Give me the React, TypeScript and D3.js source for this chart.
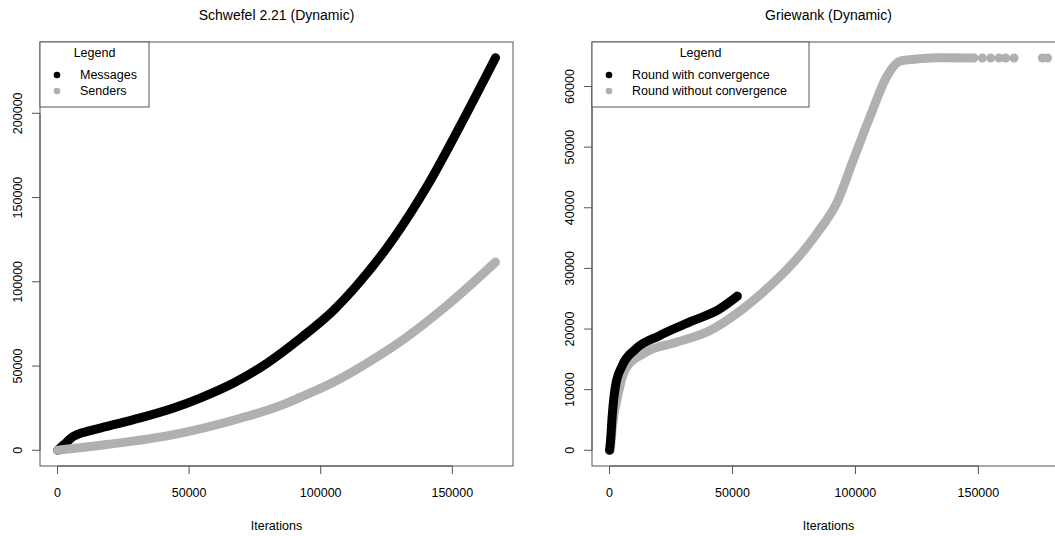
import React from "react";
import * as d3 from "d3";

// values, [iteration, count]
const messages: [number, number][] = [
  [0, 0], [2500, 3500], [6100, 8300], [12000, 11500], [18800, 14200],
  [31400, 19200], [44100, 25100], [54200, 31000], [66900, 39900],
  [79600, 51700], [92300, 66500], [105000, 83300], [113800, 98000],
  [127800, 126000], [140500, 157000], [153100, 193000], [166400, 233000],
];

const senders: [number, number][] = [
  [0, 0], [18800, 3400], [44100, 9300], [69500, 19000], [84700, 26500],
  [92300, 31500], [105000, 40500], [121500, 55500], [131600, 66000],
  [148000, 86000], [166400, 111700],
];

const withConv: [number, number][] = [
  [0, 0], [400, 1500], [1100, 5740], [2450, 10660], [5170, 13950],
  [10600, 16690], [20100, 18870], [33700, 21330], [44500, 23250],
  [52000, 25430],
];

const withoutConv: [number, number][] = [
  [300, 0], [1200, 4000], [3100, 8480], [6500, 13400], [14700, 16140],
  [26900, 17780], [40500, 19690], [54000, 23250], [62500, 26100],
  [74900, 31000], [84400, 35800], [92600, 40970], [99300, 48070],
  [106100, 55190], [112900, 61760], [118400, 64220], [126500, 64600],
  [134600, 64750], [148200, 64700],
];

// sparse rounds at the plateau
const withoutConvTail: [number, number][] = [
  [151600, 64700], [155000, 64700], [158400, 64700], [161100, 64700],
  [164500, 64700], [176000, 64700], [178100, 64700],
];

const leftXTicks = [0, 50000, 100000, 150000];
const leftYTicks = [0, 50000, 100000, 150000, 200000];
const rightXTicks = [0, 50000, 100000, 150000];
const rightYTicks = [0, 10000, 20000, 30000, 40000, 50000, 60000];

const BLACK = "#000";
const GRAY = "#b0b0b0";
const FONT = "'Liberation Sans', Arial, sans-serif";

// R style 4% padding
function pad([a, b]: [number, number]): [number, number] {
  const d = (b - a) * 0.04;
  return [a - d, b + d];
}

type Series = { data: [number, number][]; color: string };

function Panel({ left, title, series, dots, xTicks, yTicks, legend }: {
  left: number;
  title: string;
  series: Series[];
  dots: Series[];
  xTicks: number[];
  yTicks: number[];
  legend: { labels: string[]; colors: string[]; width: number };
}) {
  const top = 42, bottom = 466, width = 473;
  const all = [...series, ...dots].flatMap((s) => s.data);
  const x = d3.scaleLinear()
    .domain(pad([0, d3.max(all, (d) => d[0])!]))
    .range([left, left + width]);
  const y = d3.scaleLinear()
    .domain(pad([0, d3.max(all, (d) => d[1])!]))
    .range([bottom, top]);
  const line = d3.line<[number, number]>()
    .x((d) => x(d[0]))
    .y((d) => y(d[1]))
    .curve(d3.curveMonotoneX);
  const axisCol = "#555";
  const cx = left + width / 2;

  return (
    <g fontFamily={FONT}>
      <text x={cx} y={15} textAnchor="middle" dominantBaseline="central" fontSize={14}>{title}</text>

      {series.map((s, i) => (
        <path key={i} d={line(s.data)!} fill="none" stroke={s.color}
          strokeWidth={9} strokeLinecap="round" strokeLinejoin="round" />
      ))}
      {dots.map((s, i) =>
        s.data.map((d, j) => (
          <circle key={`${i}-${j}`} cx={x(d[0])} cy={y(d[1])} r={4.5} fill={s.color} />
        ))
      )}

      <rect x={left} y={top} width={width} height={bottom - top} fill="none" stroke={axisCol} strokeWidth={1} />

      {/* x axis */}
      <line x1={x(xTicks[0])} x2={x(xTicks[xTicks.length - 1])} y1={bottom} y2={bottom} stroke={axisCol} />
      {xTicks.map((t) => (
        <g key={t}>
          <line x1={x(t)} x2={x(t)} y1={bottom} y2={bottom + 8} stroke={axisCol} />
          <text x={x(t)} y={493} textAnchor="middle" dominantBaseline="central" fontSize={12.5}>{t}</text>
        </g>
      ))}
      <text x={cx} y={526} textAnchor="middle" dominantBaseline="central" fontSize={12.5}>Iterations</text>

      {/* y axis */}
      <line x1={left} x2={left} y1={y(yTicks[0])} y2={y(yTicks[yTicks.length - 1])} stroke={axisCol} />
      {yTicks.map((t) => (
        <g key={t}>
          <line x1={left - 8} x2={left} y1={y(t)} y2={y(t)} stroke={axisCol} />
          <text transform={`translate(${left - 22},${y(t)}) rotate(-90)`} textAnchor="middle"
            dominantBaseline="central" fontSize={12.5}>{t}</text>
        </g>
      ))}

      {/* legend */}
      <rect x={left} y={top} width={legend.width} height={65} fill="#fff" stroke={axisCol} />
      <text x={left + legend.width / 2} y={53} textAnchor="middle" dominantBaseline="central" fontSize={12.5}>Legend</text>
      {legend.labels.map((lab, i) => (
        <g key={lab}>
          <circle cx={left + 17} cy={75 + i * 16} r={3.3} fill={legend.colors[i]} />
          <text x={left + 40} y={75 + i * 16} dominantBaseline="central" fontSize={12.5}>{lab}</text>
        </g>
      ))}
    </g>
  );
}

export default function App() {
  return (
    <svg width={1055} height={536} style={{ position: "absolute", left: 0, top: 0, background: "#fff" }}>
      <rect width={1055} height={536} fill="#fff" />
      <Panel
        left={40}
        title="Schwefel 2.21 (Dynamic)"
        series={[{ data: messages, color: BLACK }, { data: senders, color: GRAY }]}
        dots={[]}
        xTicks={leftXTicks}
        yTicks={leftYTicks}
        legend={{ labels: ["Messages", "Senders"], colors: [BLACK, GRAY], width: 109 }}
      />
      <Panel
        left={592}
        title="Griewank (Dynamic)"
        series={[{ data: withoutConv, color: GRAY }, { data: withConv, color: BLACK }]}
        dots={[{ data: withoutConvTail, color: GRAY }]}
        xTicks={rightXTicks}
        yTicks={rightYTicks}
        legend={{ labels: ["Round with convergence", "Round without convergence"], colors: [BLACK, GRAY], width: 217 }}
      />
    </svg>
  );
}
